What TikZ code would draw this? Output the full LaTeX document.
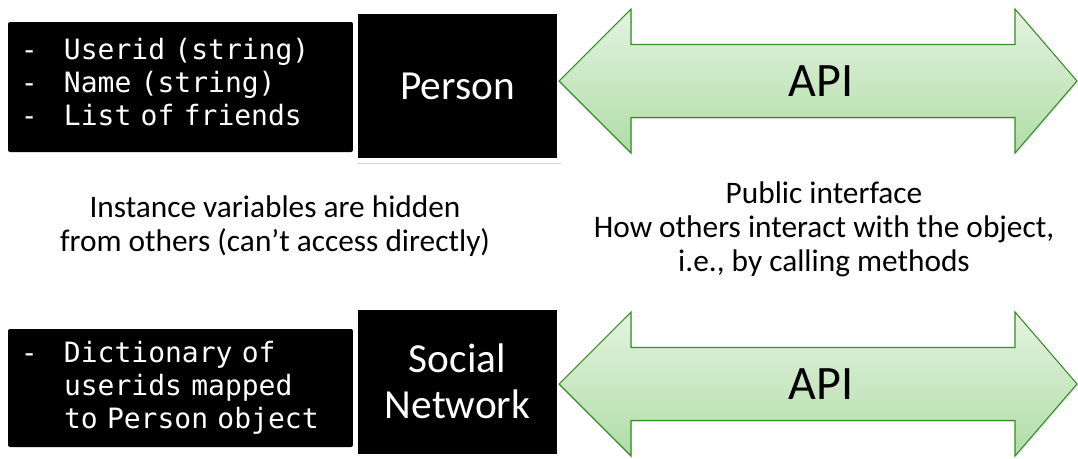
\documentclass[tikz,border=0pt]{standalone}
\usepackage{fontspec}
\setmainfont{Carlito}
\newfontfamily\codefont{DejaVu Sans Mono}
\usetikzlibrary{shadows}

\newcommand{\dashitem}{\makebox[32.25pt][l]{-}}
\newcommand{\contline}{\hspace*{32.25pt}}

\begin{document}
\begin{tikzpicture}[x=0.75pt,y=-0.75pt,
	code box/.style={rectangle,fill=black,text=white,rounded corners=1.5pt,inner xsep=0pt,
		minimum width=258.75pt,text width=239.25pt,align=left,
		font={\codefont\fontsize{21}{24.75}\selectfont}},
	class box/.style={rectangle,fill=black,draw=white,line width=3.75pt,text=white,
		minimum width=153pt,minimum height=111.75pt,align=center,
		font={\fontsize{31}{34.5}\selectfont},
		drop shadow={shadow xshift=1pt,shadow yshift=-2.5pt,opacity=0.35}},
	note/.style={align=center,font={\fontsize{23.5}{25.5}\selectfont}},
	api arrow/.style={draw=apiborder,line width=0.8pt,line join=miter,
		top color=apitop,bottom color=apibottom,
		drop shadow={shadow xshift=0.8pt,shadow yshift=-1.2pt,opacity=0.2}},
	api label/.style={font={\fontsize{36}{40}\selectfont}}]

	\definecolor{apiborder}{RGB}{56,140,40}
	\definecolor{apitop}{RGB}{228,243,225}
	\definecolor{apibottom}{RGB}{176,221,166}

	\useasboundingbox (0,0) rectangle (1078,458);

	% first row: Person
	\node[code box,minimum height=97.5pt,text depth=57pt] (personvars) at (180.5,87)
		{\dashitem Userid (string)\\ \dashitem Name (string)\\ \dashitem List of friends};
	\node[class box] (person) at (457.5,86) {Person};
	\path[api arrow] (559,81) -- (631,9) -- (631,44.5) -- (1015,44.5) -- (1015,9) -- (1077,81)
		-- (1015,153) -- (1015,117.5) -- (631,117.5) -- (631,153) -- cycle;
	\node[api label] (api1) at (821,81) {API};

	% notes in between
	\node[note] (hidden) at (275,226) {Instance variables are hidden\\from others (can’t access directly)};
	\node[note] (public) at (824,229) {Public interface\\How others interact with the object,\\i.e., by calling methods};

	% second row: Social Network
	\node[code box,minimum height=88.5pt] (networkvars) at (180.5,388)
		{\dashitem Dictionary of\\ \contline userids mapped\\ \contline to Person object};
	\node[class box] (network) at (457.5,381.5) {Social\\Network};
	\path[api arrow,shift={(0,303)}] (559,81) -- (631,9) -- (631,44.5) -- (1015,44.5) -- (1015,9) -- (1077,81)
		-- (1015,153) -- (1015,117.5) -- (631,117.5) -- (631,153) -- cycle;
	\node[api label] (api2) at (821,384) {API};
\end{tikzpicture}
\end{document}
